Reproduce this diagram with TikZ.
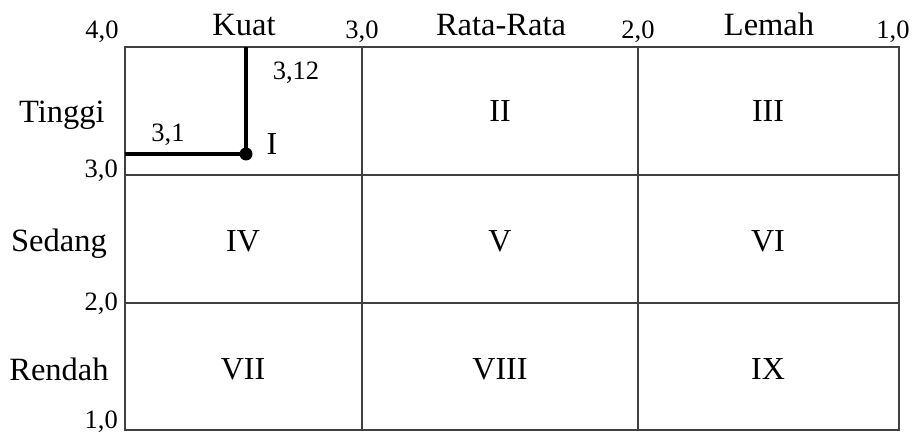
\documentclass[tikz,border=0pt]{standalone}
\usepackage{fontspec}
\setmainfont{Liberation Serif}
\usepackage{tikz}
\usetikzlibrary{positioning}

\tikzset{
  lbl/.style={font=\fontsize{32.5}{32.5}\selectfont, inner sep=0pt, anchor=base},
  scorelbl/.style={font=\fontsize{26.5}{26.5}\selectfont, inner sep=0pt, anchor=base},
  cell/.style={font=\fontsize{32}{32}\selectfont, inner sep=0pt, anchor=base},
  gridline/.style={black!75, line width=1.3pt},
  markline/.style={black, line width=3.2pt},
  markdot/.style={circle, fill=black, inner sep=0pt, minimum size=13pt},
}

\begin{document}
\begin{tikzpicture}[x=1pt, y=-1pt]
\useasboundingbox (0,0) rectangle (913,433);
% matrix
\draw[gridline] (125,47) rectangle (899,430);
\draw[gridline] (362,47) -- (362,430);
\draw[gridline] (638,47) -- (638,430);
\draw[gridline] (125,175) -- (899,175);
\draw[gridline] (125,303) -- (899,303);
% top labels
\node[scorelbl] (t40) at (102,39) {4,0};
\node[lbl] (kuat) at (244,36) {Kuat};
\node[scorelbl] (t30) at (362,39) {3,0};
\node[lbl] (rata) at (501,36) {Rata-Rata};
\node[scorelbl] (t20) at (638,39) {2,0};
\node[lbl] (lemah) at (769,36) {Lemah};
\node[scorelbl] (t10) at (893,39) {1,0};
% left labels
\node[lbl] (tinggi) at (62,123) {Tinggi};
\node[scorelbl, anchor=base east] (l30) at (118,177) {3,0};
\node[lbl] (sedang) at (59,251) {Sedang};
\node[scorelbl, anchor=base east] (l20) at (118,310) {2,0};
\node[lbl] (rendah) at (59,380) {Rendah};
\node[scorelbl, anchor=base east] (l10) at (118,428) {1,0};
% cells
\node[cell] (c1) at (272,155) {I};
\node[cell] (c2) at (500,122) {II};
\node[cell] (c3) at (768,122) {III};
\node[cell] (c4) at (243,251) {IV};
\node[cell] (c5) at (500,251) {V};
\node[cell] (c6) at (768,251) {VI};
\node[cell] (c7) at (243,379) {VII};
\node[cell] (c8) at (500,379) {VIII};
\node[cell] (c9) at (768,379) {IX};
% position of the firm
\node[markdot] (ife) at (246,154) {};
\coordinate (efetop) at (246,47);
\coordinate (ifeleft) at (125,154);
\draw[markline] (efetop) -- (ife.center);
\draw[markline] (ifeleft) -- (ife.center);
\node[scorelbl] (efe) at (296,80) {3,12};
\node[scorelbl] (ifeval) at (168,142) {3,1};
\end{tikzpicture}
\end{document}
